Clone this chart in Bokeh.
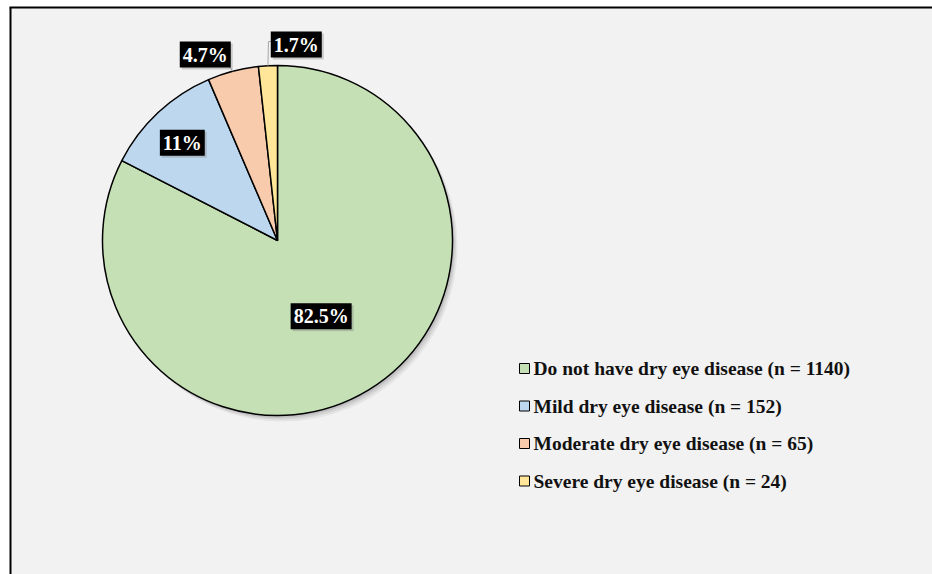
import math

from bokeh.core.properties import value
from bokeh.embed import file_html
from bokeh.models import ColumnDataSource, Range1d
from bokeh.plotting import figure
from bokeh.resources import INLINE

# --- data -----------------------------------------------------------------
categories = [
    "Do not have dry eye disease",
    "Mild dry eye disease",
    "Moderate dry eye disease",
    "Severe dry eye disease",
]
counts = [1140, 152, 65, 24]
pct_labels = ["82.5%", "11%", "4.7%", "1.7%"]
colors = ["#c5e0b4", "#bdd7ee", "#f8cbad", "#ffe699"]

# --- layout (pixel space, y measured upward from the bottom edge) ----------
W, H = 932, 574
CX, CY, R = 277, H - 240, 175


def serif():
    return value("Liberation Serif")


# label placement: radial fraction of R and angular nudge (degrees)
label_r = [0.50, 0.78, 1.14, 1.125]
label_nudge = [-1.5, 1.2, 6.5, -8.6]

p = figure(
    width=W, height=H,
    x_range=Range1d(0, W), y_range=Range1d(0, H),
    output_backend="svg", toolbar_location=None,
    min_border=0, outline_line_color=None,
    background_fill_color="white", border_fill_color="white",
)
p.axis.visible = False
p.grid.visible = False

# panel background and its top/left rule
p.quad(left=[10.5], right=[W], bottom=[0], top=[H - 7.5],
       fill_color="#f2f2f2", line_color=None)
p.segment(x0=[9], y0=[H - 7], x1=[W], y1=[H - 7], line_color="black", line_width=2)
p.segment(x0=[10], y0=[H - 7], x1=[10], y1=[0], line_color="black", line_width=2)

# wedge angles, clockwise from 12 o'clock
total = sum(counts)
fracs = [c / total for c in counts]
starts, ends, mids = [], [], []
acc = 0.0
for f in fracs:
    a0 = math.pi / 2 - 2 * math.pi * acc
    acc += f
    a1 = math.pi / 2 - 2 * math.pi * acc
    starts.append(a0)
    ends.append(a1)
    mids.append((a0 + a1) / 2)

# soft drop shadow under the pie
for off, alpha in [(5, 0.05), (3.5, 0.07), (2, 0.09)]:
    p.circle(x=[CX + off], y=[CY - off * 1.2], radius=R,
             fill_color="black", fill_alpha=alpha, line_color=None)

src = ColumnDataSource(dict(
    start=starts, end=ends, color=colors, cat=categories,
))
p.wedge(x=CX, y=CY, radius=R, start_angle="start", end_angle="end",
        direction="clock", fill_color="color", line_color="black",
        line_width=1.5, source=src)

# percentage labels
lx, ly = [], []
for m, rf, nd in zip(mids, label_r, label_nudge):
    a = m + math.radians(nd)
    lx.append(CX + rf * R * math.cos(a))
    ly.append(CY + rf * R * math.sin(a))

# leader lines for the two outside labels
e2 = (CX + R * math.cos(mids[2]), CY + R * math.sin(mids[2]))
p.line(x=[e2[0], lx[2] + 24], y=[e2[1], ly[2] - 12],
       line_color="#a6a6a6", line_width=1)
e3 = (CX + R * math.cos(mids[3]), CY + R * math.sin(mids[3]))
p.line(x=[e3[0], e3[0] + 0.5, lx[3] - 24], y=[e3[1], ly[3] + 3, ly[3] + 3],
       line_color="#a6a6a6", line_width=1)

# label box shadow
p.text(x=[x + 2 for x in lx], y=[y - 2 for y in ly], text=pct_labels,
       text_align="center", text_baseline="middle",
       text_font=serif(), text_font_style="bold", text_font_size="20px",
       text_color="#000000", text_alpha=0.0,
       background_fill_color="#7f7f7f", background_fill_alpha=0.35,
       padding=[3, 2])
p.text(x=lx, y=ly, text=pct_labels,
       text_align="center", text_baseline="middle",
       text_font=serif(), text_font_style="bold", text_font_size="20px",
       text_color="white", background_fill_color="black", padding=[3, 2])

# legend
LEG_X, LEG_TOP, LEG_STEP = 524, H - 368, 37.5
leg_y = [LEG_TOP - i * LEG_STEP for i in range(len(categories))]
leg_text = [f"{c} (n = {n})" for c, n in zip(categories, counts)]
p.scatter(x=[LEG_X] * len(categories), y=leg_y, marker="square", size=10,
          fill_color=colors, line_color="black", line_width=1)
p.text(x=[LEG_X + 9] * len(categories), y=leg_y, text=leg_text,
       text_align="left", text_baseline="middle",
       text_font=serif(), text_font_style="bold", text_font_size="19.5px",
       text_color="#111111")

open("out.html", "w").write(file_html(p, INLINE))
